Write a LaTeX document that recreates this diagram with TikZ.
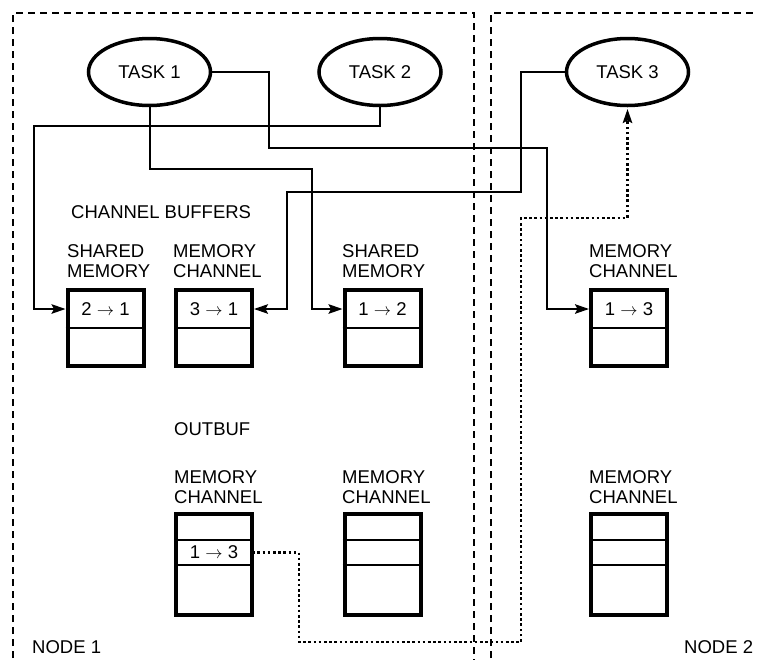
\documentclass[tikz,border=0pt]{standalone}
\usepackage{fontspec}
\setmainfont{Liberation Sans}
\usetikzlibrary{shapes.geometric,arrows.meta}

\tikzset{
  txt/.style={font=\fontsize{18.5}{20}\selectfont},
  task/.style={txt, ellipse, draw, line width=3.5pt, minimum width=122pt,
    minimum height=67pt, inner sep=0pt},
  bufbox/.style={draw, line width=4pt, minimum width=76pt, inner sep=0pt},
  topbuf/.style={bufbox, minimum height=76pt},
  lowbuf/.style={bufbox, minimum height=101pt},
  cell/.style={txt, minimum width=76pt, inner sep=0pt},
  divider/.style={line width=2.2pt},
  lbl/.style={txt, anchor=north west, align=left, inner sep=0pt},
  wire/.style={line width=2pt, -{Stealth[length=14pt,width=9.5pt,inset=2.5pt]},
    shorten >=1.8pt},
  dotwire/.style={wire, dash pattern=on 2.6pt off 2.6pt, line width=2.2pt},
  region/.style={dash pattern=on 7pt off 5pt, line width=1.8pt},
}

\begin{document}
\begin{tikzpicture}[x=1pt, y=-1pt]
\useasboundingbox (0,0) rectangle (757,659);
\clip (0,0) rectangle (757,659);

% node regions
\draw[region] (13,670) -- (13,13) -- (474,13) -- (474,670);
\draw[region] (491,670) -- (491,13) -- (770,13);
\node[txt, anchor=base west, inner sep=0pt] (n1) at (32,653) {NODE 1};
\node[txt, anchor=base west, inner sep=0pt] (n2) at (684,653) {NODE 2};

% tasks
\node[task] (t1) at (149.5,72) {TASK 1};
\node[task] (t2) at (380,72) {TASK 2};
\node[task] (t3) at (627.5,72) {TASK 3};

% channel buffers
\node[txt, anchor=base west, inner sep=0pt] (cb) at (71,218) {CHANNEL BUFFERS};

\node[topbuf] (b21) at (105.5,328) {};
\node[topbuf] (b31) at (214,328) {};
\node[topbuf] (b12) at (382.5,328) {};
\node[topbuf] (b13) at (629,328) {};
\foreach \b in {b21,b31,b12,b13}
  \draw[divider] (\b.west) -- (\b.east);
\node[cell] (c21) at (105.5,309) {2 $\rightarrow$ 1};
\node[cell] (c31) at (214,309) {3 $\rightarrow$ 1};
\node[cell] (c12) at (382.5,309) {1 $\rightarrow$ 2};
\node[cell] (c13) at (629,309) {1 $\rightarrow$ 3};

\node[lbl] (l21) at (67,244) {SHARED\\MEMORY};
\node[lbl] (l31) at (173,244) {MEMORY\\CHANNEL};
\node[lbl] (l12) at (342,244) {SHARED\\MEMORY};
\node[lbl] (l13) at (589,244) {MEMORY\\CHANNEL};

% output buffers
\node[txt, anchor=base west, inner sep=0pt] (ob) at (174,435) {OUTBUF};

\node[lowbuf] (o1) at (214,564.5) {};
\node[lowbuf] (o2) at (382.5,564.5) {};
\node[lowbuf] (o3) at (629,564.5) {};
\foreach \b in {o1,o2,o3} {
  \draw[divider] (\b.west |- 0,540) -- (\b.east |- 0,540);
  \draw[divider] (\b.west |- 0,565) -- (\b.east |- 0,565);
}
\node[cell] (oc1) at (214,552.5) {1 $\rightarrow$ 3};

\node[lbl] (lo1) at (174,470) {MEMORY\\CHANNEL};
\node[lbl] (lo2) at (342,470) {MEMORY\\CHANNEL};
\node[lbl] (lo3) at (589,470) {MEMORY\\CHANNEL};

% connectors
\draw[wire] (t2.south) |- (34,126) |- (c21.west);
\draw[wire] (t1.east) -| (269,148) -- (547,148) |- (c13.west);
\draw[wire] (t1.south) |- (312,169) |- (c12.west);
\draw[wire] (t3.west) -| (521,192) -- (287,192) |- (c31.east);
\draw[dotwire] (oc1.east) -| (299,642) -- (521,642) |- (t3.south |- 0,218) -- (t3.south);
\end{tikzpicture}
\end{document}
